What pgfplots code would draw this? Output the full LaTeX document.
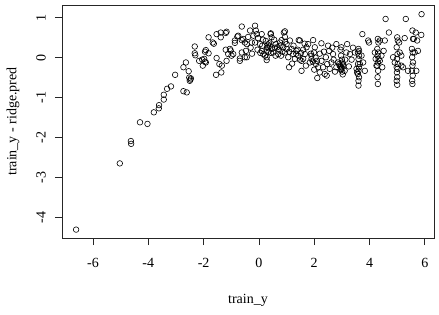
\documentclass[border=0pt]{standalone}
\usepackage{fontspec}
\setmainfont{Liberation Serif}
\usepackage{pgfplots}
\pgfplotsset{compat=1.18}
\begin{document}
\fontsize{14bp}{16.8bp}\selectfont
\begin{tikzpicture}
\path[use as bounding box] (-62bp,-77bp) rectangle (377bp,238bp);
\begin{axis}[
  at={(0,0)}, anchor=south west,
  scale only axis, width=372bp, height=233bp,
  xmin=-7.12, xmax=6.33, ymin=-4.52, ymax=1.32,
  xtick={-6,-4,...,6}, ytick={-4,-3,...,1},
  tick align=outside, tick pos=left, major tick length=7bp,
  axis line style={line width=0.8bp, black!85},
  tick style={line width=0.8bp, black!85},
  /pgf/number format/assume math mode=true,
  xticklabel style={anchor=center, yshift=-18bp},
  yticklabel style={xshift=-14bp, rotate=90, anchor=center},
  xlabel={train\_y}, ylabel={train\_y - ridge.pred},
  xlabel style={at={([yshift=-62bp]axis description cs:0.5,0)}, anchor=center},
  ylabel style={at={([xshift=-49bp]axis description cs:0,0.5)}, anchor=center, rotate=0},
  clip=false,
]
\addplot[only marks, mark=o, mark size=2.8bp, mark options={line width=0.6bp, black}] coordinates {
(-6.61,-4.31) (-5.03,-2.65) (-4.63,-2.09) (-4.62,-2.16) (-4.30,-1.62) (-4.03,-1.66)
(-3.80,-1.37) (-3.62,-1.27) (-3.61,-1.19) (-3.44,-1.05) (-3.44,-0.93) (-3.32,-0.78)
(-3.18,-0.72) (-3.03,-0.43) (-2.73,-0.84) (-2.61,-0.87) (-2.73,-0.24) (-2.64,-0.12)
(-2.54,-0.34) (-2.52,-0.50) (-2.48,-0.55) (-2.50,-0.58) (-2.46,-0.52) (-2.32,0.28)
(-2.32,0.11) (-2.30,0.06) (-2.16,-0.08) (-2.03,-0.20) (-2.05,-0.05) (-1.98,-0.03)
(-1.95,-0.10) (-1.92,0.19) (-1.92,-0.12) (-1.95,0.15) (-1.82,0.51) (-1.82,0.11)
(-1.67,0.38) (-1.63,0.35) (-1.53,0.59) (-1.53,-0.01) (-1.55,-0.43) (-1.43,-0.16)
(-1.36,-0.37) (-1.38,0.51) (-1.38,0.63) (-1.34,-0.20) (-1.20,0.62) (-1.17,0.65)
(-1.20,0.20) (-1.17,-0.08) (-1.11,0.09) (-1.05,0.22) (-1.02,0.18) (-0.99,0.05)
(-0.93,0.09) (-0.87,0.37) (-0.87,0.43) (-0.78,0.53) (-0.75,0.55) (-0.69,-0.08)
(-0.69,-0.02) (-0.62,0.78) (-0.62,0.13) (-0.62,0.44) (-0.57,0.47) (-0.51,0.38)
(-0.44,0.01) (-0.47,0.17) (-0.51,0.01) (-0.44,0.34) (-0.39,0.52) (-0.32,0.68)
(-0.26,0.38) (-0.14,0.80) (-0.11,0.68) (-0.08,0.59) (-0.03,0.49) (0.10,0.59)
(-0.14,0.38) (0.04,0.34) (0.10,0.17) (0.16,0.09) (0.22,0.05) (0.28,0.01)
(0.28,0.18) (0.34,0.26) (0.37,0.36) (0.42,0.59) (0.46,0.51) (0.28,-0.06)
(0.46,0.22) (0.52,0.13) (0.61,0.34) (0.66,0.26) (0.70,0.09) (0.76,0.38)
(0.82,0.44) (0.90,0.63) (0.94,0.52) (0.88,0.26) (0.94,0.13) (1.00,0.34)
(1.06,0.01) (1.09,-0.24) (1.12,0.43) (1.18,0.22) (1.24,0.09) (1.30,-0.03)
(1.36,0.17) (1.42,0.05) (1.48,0.43) (1.54,-0.33) (1.54,-0.08) (1.60,-0.03)
(1.66,0.09) (1.72,0.26) (1.78,0.34) (1.84,-0.12) (1.90,-0.03) (1.96,0.44)
(1.99,0.13) (2.02,0.26) (2.06,-0.16) (2.11,-0.51) (2.14,-0.24) (2.20,-0.37)
(2.26,0.36) (2.26,-0.08) (2.32,-0.24) (2.38,-0.41) (2.42,0.01) (2.47,-0.16)
(2.54,0.17) (2.56,-0.28) (2.62,-0.12) (2.68,0.09) (2.80,0.34) (2.80,-0.24)
(2.86,-0.12) (2.92,-0.20) (2.90,-0.16) (2.95,-0.22) (2.98,0.26) (2.98,-0.28)
(3.04,-0.16) (3.10,-0.33) (3.16,0.13) (3.19,0.34) (3.29,0.09)
(0.30,0.25) (0.35,0.15) (0.40,0.30) (0.44,0.12) (0.32,0.33) (0.72,0.20)
(0.78,0.30) (0.85,0.15) (0.95,0.40) (1.00,0.22) (0.80,0.05) (1.35,0.10)
(1.40,0.20) (1.48,-0.05) (1.52,0.12) (1.44,0.44) (1.90,0.05) (1.95,-0.10)
(2.05,0.00) (2.10,-0.08) (1.88,0.10) (0.43,0.61) (0.94,0.66) (0.60,0.05)
(0.55,0.45) (1.25,0.30) (1.65,0.35) (2.35,0.15) (2.50,0.30) (2.70,-0.05)
(2.75,-0.35) (3.35,-0.05) (3.40,0.25) (3.25,-0.22) (0.05,0.12) (-0.05,0.20)
(0.15,0.45) (-0.25,0.10) (-0.30,0.25) (0.12,0.30)
(1.20,-0.15) (1.70,-0.20) (2.00,-0.30) (2.45,-0.45) (2.65,0.25) (3.12,-0.05)
(0.58,0.25) (1.10,0.15) (1.60,0.20) (2.20,0.10) (-0.20,0.55) (0.25,0.42)
(2.95,0.20) (2.97,0.05) (3.00,-0.05) (3.02,-0.12) (2.99,-0.25) (3.01,-0.35)
(3.03,-0.42) (3.05,-0.20) (2.96,-0.30)
(3.60,0.22) (3.58,0.13) (3.62,0.05) (3.60,-0.03) (3.58,-0.16) (3.62,-0.24)
(3.60,-0.33) (3.58,-0.41) (3.62,-0.49) (3.60,-0.58) (3.60,-0.70) (3.53,-0.28)
(3.55,-0.37) (3.62,0.17) (3.65,-0.16) (3.71,0.05) (3.74,0.59) (3.77,-0.12)
(3.83,-0.33) (3.98,0.38) (3.47,0.13) (3.95,0.43)
(4.30,0.47) (4.32,0.38) (4.28,0.22) (4.31,0.13) (4.29,0.05) (4.33,-0.03)
(4.30,-0.12) (4.28,-0.20) (4.31,-0.33) (4.29,-0.49) (4.30,-0.66) (4.19,0.13)
(4.22,-0.03) (4.37,0.43) (4.37,-0.08) (4.43,0.05) (4.46,-0.24) (4.51,0.17)
(4.55,0.43) (4.58,0.97) (4.70,0.63) (4.25,-0.20)
(5.00,0.51) (5.02,0.43) (4.98,0.26) (5.01,0.09) (4.99,-0.03) (5.02,-0.16)
(4.98,-0.24) (5.01,-0.28) (4.99,-0.37) (5.00,-0.49) (4.98,-0.58) (5.00,-0.68)
(4.85,0.01) (4.91,-0.12) (5.07,0.38) (5.09,0.13) (5.15,0.05) (5.15,-0.20)
(5.21,-0.24) (5.27,0.49) (5.31,0.97)
(5.55,0.68) (5.57,0.47) (5.53,0.22) (5.56,0.13) (5.54,0.01) (5.57,-0.12)
(5.55,-0.20) (5.53,-0.33) (5.56,-0.45) (5.54,-0.58) (5.55,-0.66) (5.39,-0.33)
(5.60,0.47) (5.63,0.13) (5.67,0.63) (5.69,-0.33) (5.72,0.43) (5.75,0.17)
(5.87,0.57) (5.88,1.09)
};
\end{axis}
\end{tikzpicture}
\end{document}
